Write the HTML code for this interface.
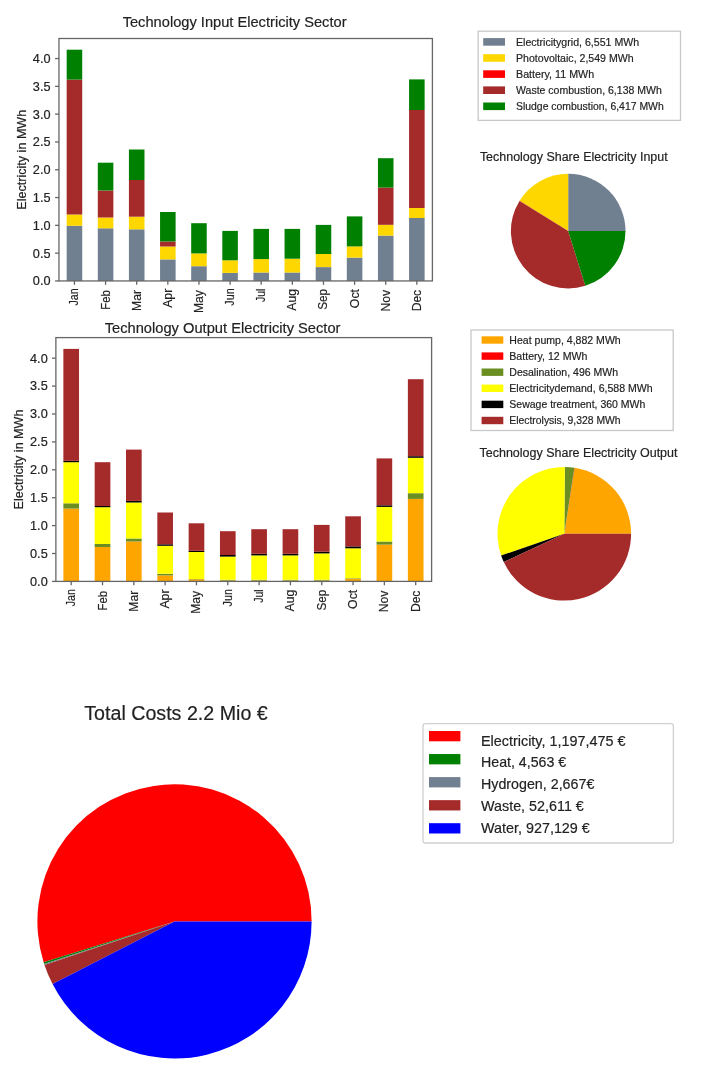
<!DOCTYPE html><html><head><meta charset="utf-8"><style>html,body{margin:0;padding:0;background:#fff;}svg{display:block;filter:blur(0.45px);}text{font-family:"Liberation Sans",sans-serif;stroke:#222;stroke-width:0.18px;}</style></head><body>
<svg width="710" height="1075" viewBox="0 0 710 1075">
<rect width="710" height="1075" fill="#fff"/>
<rect x="66.67" y="225.80" width="15.56" height="55.15" fill="#708090"/>
<rect x="66.67" y="214.50" width="15.56" height="11.30" fill="#ffd700"/>
<rect x="66.67" y="79.60" width="15.56" height="134.90" fill="#a52a2a"/>
<rect x="66.67" y="49.70" width="15.56" height="29.90" fill="#008000"/>
<rect x="97.80" y="228.30" width="15.56" height="52.65" fill="#708090"/>
<rect x="97.80" y="217.50" width="15.56" height="10.80" fill="#ffd700"/>
<rect x="97.80" y="190.50" width="15.56" height="27.00" fill="#a52a2a"/>
<rect x="97.80" y="162.70" width="15.56" height="27.80" fill="#008000"/>
<rect x="128.92" y="229.30" width="15.56" height="51.65" fill="#708090"/>
<rect x="128.92" y="216.70" width="15.56" height="12.60" fill="#ffd700"/>
<rect x="128.92" y="180.00" width="15.56" height="36.70" fill="#a52a2a"/>
<rect x="128.92" y="149.50" width="15.56" height="30.50" fill="#008000"/>
<rect x="160.05" y="259.40" width="15.56" height="21.55" fill="#708090"/>
<rect x="160.05" y="246.50" width="15.56" height="12.90" fill="#ffd700"/>
<rect x="160.05" y="241.50" width="15.56" height="5.00" fill="#a52a2a"/>
<rect x="160.05" y="212.00" width="15.56" height="29.50" fill="#008000"/>
<rect x="191.18" y="266.20" width="15.56" height="14.75" fill="#708090"/>
<rect x="191.18" y="253.40" width="15.56" height="12.80" fill="#ffd700"/>
<rect x="191.18" y="223.20" width="15.56" height="30.20" fill="#008000"/>
<rect x="222.30" y="272.90" width="15.56" height="8.05" fill="#708090"/>
<rect x="222.30" y="260.30" width="15.56" height="12.60" fill="#ffd700"/>
<rect x="222.30" y="230.90" width="15.56" height="29.40" fill="#008000"/>
<rect x="253.43" y="272.50" width="15.56" height="8.45" fill="#708090"/>
<rect x="253.43" y="259.10" width="15.56" height="13.40" fill="#ffd700"/>
<rect x="253.43" y="228.90" width="15.56" height="30.20" fill="#008000"/>
<rect x="284.56" y="272.50" width="15.56" height="8.45" fill="#708090"/>
<rect x="284.56" y="258.70" width="15.56" height="13.80" fill="#ffd700"/>
<rect x="284.56" y="228.90" width="15.56" height="29.80" fill="#008000"/>
<rect x="315.69" y="267.10" width="15.56" height="13.85" fill="#708090"/>
<rect x="315.69" y="254.00" width="15.56" height="13.10" fill="#ffd700"/>
<rect x="315.69" y="224.90" width="15.56" height="29.10" fill="#008000"/>
<rect x="346.81" y="257.60" width="15.56" height="23.35" fill="#708090"/>
<rect x="346.81" y="246.40" width="15.56" height="11.20" fill="#ffd700"/>
<rect x="346.81" y="216.40" width="15.56" height="30.00" fill="#008000"/>
<rect x="377.94" y="235.60" width="15.56" height="45.35" fill="#708090"/>
<rect x="377.94" y="224.80" width="15.56" height="10.80" fill="#ffd700"/>
<rect x="377.94" y="187.60" width="15.56" height="37.20" fill="#a52a2a"/>
<rect x="377.94" y="158.20" width="15.56" height="29.40" fill="#008000"/>
<rect x="409.07" y="218.00" width="15.56" height="62.95" fill="#708090"/>
<rect x="409.07" y="208.00" width="15.56" height="10.00" fill="#ffd700"/>
<rect x="409.07" y="110.00" width="15.56" height="98.00" fill="#a52a2a"/>
<rect x="409.07" y="79.40" width="15.56" height="30.60" fill="#008000"/>
<rect x="58.97" y="38.50" width="373.43" height="242.45" fill="none" stroke="#666666" stroke-width="1.3"/>
<line x1="55.07" y1="280.95" x2="58.97" y2="280.95" stroke="#666666" stroke-width="1.3"/>
<text x="50.50" y="285.30" font-size="11.9" text-anchor="end" fill="#222222" textLength="17.65" lengthAdjust="spacingAndGlyphs" >0.0</text>
<line x1="55.07" y1="253.15" x2="58.97" y2="253.15" stroke="#666666" stroke-width="1.3"/>
<text x="50.50" y="257.50" font-size="11.9" text-anchor="end" fill="#222222" textLength="17.65" lengthAdjust="spacingAndGlyphs" >0.5</text>
<line x1="55.07" y1="225.35" x2="58.97" y2="225.35" stroke="#666666" stroke-width="1.3"/>
<text x="50.50" y="229.70" font-size="11.9" text-anchor="end" fill="#222222" textLength="17.65" lengthAdjust="spacingAndGlyphs" >1.0</text>
<line x1="55.07" y1="197.55" x2="58.97" y2="197.55" stroke="#666666" stroke-width="1.3"/>
<text x="50.50" y="201.90" font-size="11.9" text-anchor="end" fill="#222222" textLength="17.65" lengthAdjust="spacingAndGlyphs" >1.5</text>
<line x1="55.07" y1="169.75" x2="58.97" y2="169.75" stroke="#666666" stroke-width="1.3"/>
<text x="50.50" y="174.10" font-size="11.9" text-anchor="end" fill="#222222" textLength="17.65" lengthAdjust="spacingAndGlyphs" >2.0</text>
<line x1="55.07" y1="141.95" x2="58.97" y2="141.95" stroke="#666666" stroke-width="1.3"/>
<text x="50.50" y="146.30" font-size="11.9" text-anchor="end" fill="#222222" textLength="17.65" lengthAdjust="spacingAndGlyphs" >2.5</text>
<line x1="55.07" y1="114.15" x2="58.97" y2="114.15" stroke="#666666" stroke-width="1.3"/>
<text x="50.50" y="118.50" font-size="11.9" text-anchor="end" fill="#222222" textLength="17.65" lengthAdjust="spacingAndGlyphs" >3.0</text>
<line x1="55.07" y1="86.35" x2="58.97" y2="86.35" stroke="#666666" stroke-width="1.3"/>
<text x="50.50" y="90.70" font-size="11.9" text-anchor="end" fill="#222222" textLength="17.65" lengthAdjust="spacingAndGlyphs" >3.5</text>
<line x1="55.07" y1="58.55" x2="58.97" y2="58.55" stroke="#666666" stroke-width="1.3"/>
<text x="50.50" y="62.90" font-size="11.9" text-anchor="end" fill="#222222" textLength="17.65" lengthAdjust="spacingAndGlyphs" >4.0</text>
<line x1="74.45" y1="280.95" x2="74.45" y2="284.85" stroke="#666666" stroke-width="1.3"/>
<text x="78.45" y="288.35" font-size="11.9" text-anchor="end" fill="#222222" textLength="17.11" lengthAdjust="spacingAndGlyphs" transform="rotate(-90 78.45 288.35)" >Jan</text>
<line x1="105.58" y1="280.95" x2="105.58" y2="284.85" stroke="#666666" stroke-width="1.3"/>
<text x="109.58" y="290.15" font-size="11.9" text-anchor="end" fill="#222222" textLength="19.65" lengthAdjust="spacingAndGlyphs" transform="rotate(-90 109.58 290.15)" >Feb</text>
<line x1="136.70" y1="280.95" x2="136.70" y2="284.85" stroke="#666666" stroke-width="1.3"/>
<text x="140.70" y="290.05" font-size="11.9" text-anchor="end" fill="#222222" textLength="20.94" lengthAdjust="spacingAndGlyphs" transform="rotate(-90 140.70 290.05)" >Mar</text>
<line x1="167.83" y1="280.95" x2="167.83" y2="284.85" stroke="#666666" stroke-width="1.3"/>
<text x="171.83" y="288.65" font-size="11.9" text-anchor="end" fill="#222222" textLength="19.20" lengthAdjust="spacingAndGlyphs" transform="rotate(-90 171.83 288.65)" >Apr</text>
<line x1="198.96" y1="280.95" x2="198.96" y2="284.85" stroke="#666666" stroke-width="1.3"/>
<text x="202.96" y="290.05" font-size="11.9" text-anchor="end" fill="#222222" textLength="22.95" lengthAdjust="spacingAndGlyphs" transform="rotate(-90 202.96 290.05)" >May</text>
<line x1="230.09" y1="280.95" x2="230.09" y2="284.85" stroke="#666666" stroke-width="1.3"/>
<text x="234.09" y="288.35" font-size="11.9" text-anchor="end" fill="#222222" textLength="17.34" lengthAdjust="spacingAndGlyphs" transform="rotate(-90 234.09 288.35)" >Jun</text>
<line x1="261.21" y1="280.95" x2="261.21" y2="284.85" stroke="#666666" stroke-width="1.3"/>
<text x="265.21" y="288.65" font-size="11.9" text-anchor="end" fill="#222222" textLength="13.39" lengthAdjust="spacingAndGlyphs" transform="rotate(-90 265.21 288.65)" >Jul</text>
<line x1="292.34" y1="280.95" x2="292.34" y2="284.85" stroke="#666666" stroke-width="1.3"/>
<text x="296.34" y="289.05" font-size="11.9" text-anchor="end" fill="#222222" textLength="21.67" lengthAdjust="spacingAndGlyphs" transform="rotate(-90 296.34 289.05)" >Aug</text>
<line x1="323.47" y1="280.95" x2="323.47" y2="284.85" stroke="#666666" stroke-width="1.3"/>
<text x="327.47" y="288.95" font-size="11.9" text-anchor="end" fill="#222222" textLength="20.92" lengthAdjust="spacingAndGlyphs" transform="rotate(-90 327.47 288.95)" >Sep</text>
<line x1="354.60" y1="280.95" x2="354.60" y2="284.85" stroke="#666666" stroke-width="1.3"/>
<text x="358.60" y="288.95" font-size="11.9" text-anchor="end" fill="#222222" textLength="19.19" lengthAdjust="spacingAndGlyphs" transform="rotate(-90 358.60 288.95)" >Oct</text>
<line x1="385.72" y1="280.95" x2="385.72" y2="284.85" stroke="#666666" stroke-width="1.3"/>
<text x="389.72" y="289.85" font-size="11.9" text-anchor="end" fill="#222222" textLength="21.66" lengthAdjust="spacingAndGlyphs" transform="rotate(-90 389.72 289.85)" >Nov</text>
<line x1="416.85" y1="280.95" x2="416.85" y2="284.85" stroke="#666666" stroke-width="1.3"/>
<text x="420.85" y="289.85" font-size="11.9" text-anchor="end" fill="#222222" textLength="21.48" lengthAdjust="spacingAndGlyphs" transform="rotate(-90 420.85 289.85)" >Dec</text>
<text x="26.10" y="159.72" font-size="11.9" text-anchor="middle" fill="#222222" textLength="99.90" lengthAdjust="spacingAndGlyphs" transform="rotate(-90 26.10 159.72)" >Electricity in MWh</text>
<text x="234.60" y="26.50" font-size="14.6" text-anchor="middle" fill="#222222" textLength="223.86" lengthAdjust="spacingAndGlyphs" >Technology Input Electricity Sector</text>
<rect x="63.37" y="508.60" width="15.66" height="72.80" fill="#ffa500"/>
<rect x="63.37" y="503.30" width="15.66" height="5.30" fill="#6b8e23"/>
<rect x="63.37" y="462.20" width="15.66" height="41.10" fill="#ffff00"/>
<rect x="63.37" y="460.80" width="15.66" height="1.40" fill="#000000"/>
<rect x="63.37" y="348.90" width="15.66" height="111.90" fill="#a52a2a"/>
<rect x="94.69" y="547.00" width="15.66" height="34.40" fill="#ffa500"/>
<rect x="94.69" y="544.00" width="15.66" height="3.00" fill="#6b8e23"/>
<rect x="94.69" y="507.20" width="15.66" height="36.80" fill="#ffff00"/>
<rect x="94.69" y="506.00" width="15.66" height="1.20" fill="#000000"/>
<rect x="94.69" y="462.20" width="15.66" height="43.80" fill="#a52a2a"/>
<rect x="126.01" y="541.50" width="15.66" height="39.90" fill="#ffa500"/>
<rect x="126.01" y="538.50" width="15.66" height="3.00" fill="#6b8e23"/>
<rect x="126.01" y="502.50" width="15.66" height="36.00" fill="#ffff00"/>
<rect x="126.01" y="500.90" width="15.66" height="1.60" fill="#000000"/>
<rect x="126.01" y="449.60" width="15.66" height="51.30" fill="#a52a2a"/>
<rect x="157.32" y="575.40" width="15.66" height="6.00" fill="#ffa500"/>
<rect x="157.32" y="573.80" width="15.66" height="1.60" fill="#6b8e23"/>
<rect x="157.32" y="545.80" width="15.66" height="28.00" fill="#ffff00"/>
<rect x="157.32" y="544.30" width="15.66" height="1.50" fill="#000000"/>
<rect x="157.32" y="512.50" width="15.66" height="31.80" fill="#a52a2a"/>
<rect x="188.64" y="579.30" width="15.66" height="2.10" fill="#ffa500"/>
<rect x="188.64" y="579.00" width="15.66" height="0.30" fill="#6b8e23"/>
<rect x="188.64" y="552.00" width="15.66" height="27.00" fill="#ffff00"/>
<rect x="188.64" y="550.80" width="15.66" height="1.20" fill="#000000"/>
<rect x="188.64" y="523.30" width="15.66" height="27.50" fill="#a52a2a"/>
<rect x="219.96" y="580.50" width="15.66" height="0.90" fill="#ffa500"/>
<rect x="219.96" y="579.80" width="15.66" height="0.70" fill="#6b8e23"/>
<rect x="219.96" y="556.60" width="15.66" height="23.20" fill="#ffff00"/>
<rect x="219.96" y="555.00" width="15.66" height="1.60" fill="#000000"/>
<rect x="219.96" y="531.20" width="15.66" height="23.80" fill="#a52a2a"/>
<rect x="251.28" y="580.50" width="15.66" height="0.90" fill="#ffa500"/>
<rect x="251.28" y="579.80" width="15.66" height="0.70" fill="#6b8e23"/>
<rect x="251.28" y="555.40" width="15.66" height="24.40" fill="#ffff00"/>
<rect x="251.28" y="553.80" width="15.66" height="1.60" fill="#000000"/>
<rect x="251.28" y="529.20" width="15.66" height="24.60" fill="#a52a2a"/>
<rect x="282.60" y="580.50" width="15.66" height="0.90" fill="#ffa500"/>
<rect x="282.60" y="579.80" width="15.66" height="0.70" fill="#6b8e23"/>
<rect x="282.60" y="555.40" width="15.66" height="24.40" fill="#ffff00"/>
<rect x="282.60" y="553.80" width="15.66" height="1.60" fill="#000000"/>
<rect x="282.60" y="529.20" width="15.66" height="24.60" fill="#a52a2a"/>
<rect x="313.92" y="580.50" width="15.66" height="0.90" fill="#ffa500"/>
<rect x="313.92" y="579.80" width="15.66" height="0.70" fill="#6b8e23"/>
<rect x="313.92" y="553.40" width="15.66" height="26.40" fill="#ffff00"/>
<rect x="313.92" y="551.70" width="15.66" height="1.70" fill="#000000"/>
<rect x="313.92" y="524.90" width="15.66" height="26.80" fill="#a52a2a"/>
<rect x="345.23" y="578.90" width="15.66" height="2.50" fill="#ffa500"/>
<rect x="345.23" y="578.30" width="15.66" height="0.60" fill="#6b8e23"/>
<rect x="345.23" y="548.30" width="15.66" height="30.00" fill="#ffff00"/>
<rect x="345.23" y="546.40" width="15.66" height="1.90" fill="#000000"/>
<rect x="345.23" y="516.30" width="15.66" height="30.10" fill="#a52a2a"/>
<rect x="376.55" y="544.60" width="15.66" height="36.80" fill="#ffa500"/>
<rect x="376.55" y="541.50" width="15.66" height="3.10" fill="#6b8e23"/>
<rect x="376.55" y="506.90" width="15.66" height="34.60" fill="#ffff00"/>
<rect x="376.55" y="505.30" width="15.66" height="1.60" fill="#000000"/>
<rect x="376.55" y="458.40" width="15.66" height="46.90" fill="#a52a2a"/>
<rect x="407.87" y="498.90" width="15.66" height="82.50" fill="#ffa500"/>
<rect x="407.87" y="493.20" width="15.66" height="5.70" fill="#6b8e23"/>
<rect x="407.87" y="457.80" width="15.66" height="35.40" fill="#ffff00"/>
<rect x="407.87" y="456.20" width="15.66" height="1.60" fill="#000000"/>
<rect x="407.87" y="379.20" width="15.66" height="77.00" fill="#a52a2a"/>
<rect x="55.88" y="337.60" width="375.72" height="243.80" fill="none" stroke="#666666" stroke-width="1.3"/>
<line x1="51.98" y1="581.40" x2="55.88" y2="581.40" stroke="#666666" stroke-width="1.3"/>
<text x="47.70" y="585.75" font-size="11.9" text-anchor="end" fill="#222222" textLength="17.65" lengthAdjust="spacingAndGlyphs" >0.0</text>
<line x1="51.98" y1="553.50" x2="55.88" y2="553.50" stroke="#666666" stroke-width="1.3"/>
<text x="47.70" y="557.85" font-size="11.9" text-anchor="end" fill="#222222" textLength="17.65" lengthAdjust="spacingAndGlyphs" >0.5</text>
<line x1="51.98" y1="525.60" x2="55.88" y2="525.60" stroke="#666666" stroke-width="1.3"/>
<text x="47.70" y="529.95" font-size="11.9" text-anchor="end" fill="#222222" textLength="17.65" lengthAdjust="spacingAndGlyphs" >1.0</text>
<line x1="51.98" y1="497.70" x2="55.88" y2="497.70" stroke="#666666" stroke-width="1.3"/>
<text x="47.70" y="502.05" font-size="11.9" text-anchor="end" fill="#222222" textLength="17.65" lengthAdjust="spacingAndGlyphs" >1.5</text>
<line x1="51.98" y1="469.80" x2="55.88" y2="469.80" stroke="#666666" stroke-width="1.3"/>
<text x="47.70" y="474.15" font-size="11.9" text-anchor="end" fill="#222222" textLength="17.65" lengthAdjust="spacingAndGlyphs" >2.0</text>
<line x1="51.98" y1="441.90" x2="55.88" y2="441.90" stroke="#666666" stroke-width="1.3"/>
<text x="47.70" y="446.25" font-size="11.9" text-anchor="end" fill="#222222" textLength="17.65" lengthAdjust="spacingAndGlyphs" >2.5</text>
<line x1="51.98" y1="414.00" x2="55.88" y2="414.00" stroke="#666666" stroke-width="1.3"/>
<text x="47.70" y="418.35" font-size="11.9" text-anchor="end" fill="#222222" textLength="17.65" lengthAdjust="spacingAndGlyphs" >3.0</text>
<line x1="51.98" y1="386.10" x2="55.88" y2="386.10" stroke="#666666" stroke-width="1.3"/>
<text x="47.70" y="390.45" font-size="11.9" text-anchor="end" fill="#222222" textLength="17.65" lengthAdjust="spacingAndGlyphs" >3.5</text>
<line x1="51.98" y1="358.20" x2="55.88" y2="358.20" stroke="#666666" stroke-width="1.3"/>
<text x="47.70" y="362.55" font-size="11.9" text-anchor="end" fill="#222222" textLength="17.65" lengthAdjust="spacingAndGlyphs" >4.0</text>
<line x1="71.20" y1="581.40" x2="71.20" y2="585.30" stroke="#666666" stroke-width="1.3"/>
<text x="75.20" y="589.10" font-size="11.9" text-anchor="end" fill="#222222" textLength="17.11" lengthAdjust="spacingAndGlyphs" transform="rotate(-90 75.20 589.10)" >Jan</text>
<line x1="102.52" y1="581.40" x2="102.52" y2="585.30" stroke="#666666" stroke-width="1.3"/>
<text x="106.52" y="590.90" font-size="11.9" text-anchor="end" fill="#222222" textLength="19.65" lengthAdjust="spacingAndGlyphs" transform="rotate(-90 106.52 590.90)" >Feb</text>
<line x1="133.84" y1="581.40" x2="133.84" y2="585.30" stroke="#666666" stroke-width="1.3"/>
<text x="137.84" y="590.80" font-size="11.9" text-anchor="end" fill="#222222" textLength="20.94" lengthAdjust="spacingAndGlyphs" transform="rotate(-90 137.84 590.80)" >Mar</text>
<line x1="165.15" y1="581.40" x2="165.15" y2="585.30" stroke="#666666" stroke-width="1.3"/>
<text x="169.15" y="589.40" font-size="11.9" text-anchor="end" fill="#222222" textLength="19.20" lengthAdjust="spacingAndGlyphs" transform="rotate(-90 169.15 589.40)" >Apr</text>
<line x1="196.47" y1="581.40" x2="196.47" y2="585.30" stroke="#666666" stroke-width="1.3"/>
<text x="200.47" y="590.80" font-size="11.9" text-anchor="end" fill="#222222" textLength="22.95" lengthAdjust="spacingAndGlyphs" transform="rotate(-90 200.47 590.80)" >May</text>
<line x1="227.79" y1="581.40" x2="227.79" y2="585.30" stroke="#666666" stroke-width="1.3"/>
<text x="231.79" y="589.10" font-size="11.9" text-anchor="end" fill="#222222" textLength="17.34" lengthAdjust="spacingAndGlyphs" transform="rotate(-90 231.79 589.10)" >Jun</text>
<line x1="259.11" y1="581.40" x2="259.11" y2="585.30" stroke="#666666" stroke-width="1.3"/>
<text x="263.11" y="589.40" font-size="11.9" text-anchor="end" fill="#222222" textLength="13.39" lengthAdjust="spacingAndGlyphs" transform="rotate(-90 263.11 589.40)" >Jul</text>
<line x1="290.43" y1="581.40" x2="290.43" y2="585.30" stroke="#666666" stroke-width="1.3"/>
<text x="294.43" y="589.80" font-size="11.9" text-anchor="end" fill="#222222" textLength="21.67" lengthAdjust="spacingAndGlyphs" transform="rotate(-90 294.43 589.80)" >Aug</text>
<line x1="321.75" y1="581.40" x2="321.75" y2="585.30" stroke="#666666" stroke-width="1.3"/>
<text x="325.75" y="589.70" font-size="11.9" text-anchor="end" fill="#222222" textLength="20.92" lengthAdjust="spacingAndGlyphs" transform="rotate(-90 325.75 589.70)" >Sep</text>
<line x1="353.06" y1="581.40" x2="353.06" y2="585.30" stroke="#666666" stroke-width="1.3"/>
<text x="357.06" y="589.70" font-size="11.9" text-anchor="end" fill="#222222" textLength="19.19" lengthAdjust="spacingAndGlyphs" transform="rotate(-90 357.06 589.70)" >Oct</text>
<line x1="384.38" y1="581.40" x2="384.38" y2="585.30" stroke="#666666" stroke-width="1.3"/>
<text x="388.38" y="590.60" font-size="11.9" text-anchor="end" fill="#222222" textLength="21.66" lengthAdjust="spacingAndGlyphs" transform="rotate(-90 388.38 590.60)" >Nov</text>
<line x1="415.70" y1="581.40" x2="415.70" y2="585.30" stroke="#666666" stroke-width="1.3"/>
<text x="419.70" y="590.60" font-size="11.9" text-anchor="end" fill="#222222" textLength="21.48" lengthAdjust="spacingAndGlyphs" transform="rotate(-90 419.70 590.60)" >Dec</text>
<text x="22.50" y="459.50" font-size="11.9" text-anchor="middle" fill="#222222" textLength="99.90" lengthAdjust="spacingAndGlyphs" transform="rotate(-90 22.50 459.50)" >Electricity in MWh</text>
<text x="222.60" y="333.00" font-size="14.6" text-anchor="middle" fill="#222222" textLength="235.79" lengthAdjust="spacingAndGlyphs" >Technology Output Electricity Sector</text>
<rect x="478.20" y="31.20" width="202.30" height="89.20" rx="0" fill="#fff" stroke="#c8c8c8" stroke-width="1.3"/>
<rect x="483.20" y="38.10" width="21.80" height="7.60" fill="#708090"/>
<text x="516.00" y="45.90" font-size="10.6" text-anchor="start" fill="#222222" textLength="123.14" lengthAdjust="spacingAndGlyphs" >Electricitygrid, 6,551 MWh</text>
<rect x="483.20" y="54.20" width="21.80" height="7.60" fill="#ffd700"/>
<text x="516.00" y="62.00" font-size="10.6" text-anchor="start" fill="#222222" textLength="117.65" lengthAdjust="spacingAndGlyphs" >Photovoltaic, 2,549 MWh</text>
<rect x="483.20" y="70.30" width="21.80" height="7.60" fill="#ff0000"/>
<text x="516.00" y="78.10" font-size="10.6" text-anchor="start" fill="#222222" textLength="78.15" lengthAdjust="spacingAndGlyphs" >Battery, 11 MWh</text>
<rect x="483.20" y="86.40" width="21.80" height="7.60" fill="#a52a2a"/>
<text x="516.00" y="94.20" font-size="10.6" text-anchor="start" fill="#222222" textLength="145.83" lengthAdjust="spacingAndGlyphs" >Waste combustion, 6,138 MWh</text>
<rect x="483.20" y="102.50" width="21.80" height="7.60" fill="#008000"/>
<text x="516.00" y="110.30" font-size="10.6" text-anchor="start" fill="#222222" textLength="147.70" lengthAdjust="spacingAndGlyphs" >Sludge combustion, 6,417 MWh</text>
<text x="573.80" y="160.50" font-size="12.5" text-anchor="middle" fill="#222222" textLength="187.79" lengthAdjust="spacingAndGlyphs" >Technology Share Electricity Input</text>
<path d="M568.20,231.10 L625.50,231.10 A57.30,57.30 0 0 0 568.20,173.80 Z" fill="#708090"/>
<path d="M568.20,231.10 L568.20,173.80 A57.30,57.30 0 0 0 519.55,200.82 Z" fill="#ffd700"/>
<path d="M568.20,231.10 L519.55,200.82 A57.30,57.30 0 0 0 519.50,200.91 Z" fill="#ff0000"/>
<path d="M568.20,231.10 L519.50,200.91 A57.30,57.30 0 0 0 585.34,285.78 Z" fill="#a52a2a"/>
<path d="M568.20,231.10 L585.34,285.78 A57.30,57.30 0 0 0 625.50,231.10 Z" fill="#008000"/>
<rect x="471.00" y="330.00" width="202.20" height="100.50" rx="0" fill="#fff" stroke="#c8c8c8" stroke-width="1.3"/>
<rect x="481.60" y="336.30" width="21.70" height="7.40" fill="#ffa500"/>
<text x="509.30" y="343.70" font-size="10.6" text-anchor="start" fill="#222222" textLength="111.44" lengthAdjust="spacingAndGlyphs" >Heat pump, 4,882 MWh</text>
<rect x="481.60" y="352.40" width="21.70" height="7.40" fill="#ff0000"/>
<text x="509.30" y="359.80" font-size="10.6" text-anchor="start" fill="#222222" textLength="78.15" lengthAdjust="spacingAndGlyphs" >Battery, 12 MWh</text>
<rect x="481.60" y="368.50" width="21.70" height="7.40" fill="#6b8e23"/>
<text x="509.30" y="375.90" font-size="10.6" text-anchor="start" fill="#222222" textLength="108.75" lengthAdjust="spacingAndGlyphs" >Desalination, 496 MWh</text>
<rect x="481.60" y="384.60" width="21.70" height="7.40" fill="#ffff00"/>
<text x="509.30" y="392.00" font-size="10.6" text-anchor="start" fill="#222222" textLength="143.41" lengthAdjust="spacingAndGlyphs" >Electricitydemand, 6,588 MWh</text>
<rect x="481.60" y="400.70" width="21.70" height="7.40" fill="#000000"/>
<text x="509.30" y="408.10" font-size="10.6" text-anchor="start" fill="#222222" textLength="136.04" lengthAdjust="spacingAndGlyphs" >Sewage treatment, 360 MWh</text>
<rect x="481.60" y="416.80" width="21.70" height="7.40" fill="#a52a2a"/>
<text x="509.30" y="424.20" font-size="10.6" text-anchor="start" fill="#222222" textLength="111.34" lengthAdjust="spacingAndGlyphs" >Electrolysis, 9,328 MWh</text>
<text x="578.50" y="457.30" font-size="12.5" text-anchor="middle" fill="#222222" textLength="198.00" lengthAdjust="spacingAndGlyphs" >Technology Share Electricity Output</text>
<path d="M564.30,533.80 L631.10,533.80 A66.80,66.80 0 0 0 574.61,467.80 Z" fill="#ffa500"/>
<path d="M564.30,533.80 L574.61,467.80 A66.80,66.80 0 0 0 574.38,467.77 Z" fill="#ff0000"/>
<path d="M564.30,533.80 L574.38,467.77 A66.80,66.80 0 0 0 564.81,467.00 Z" fill="#6b8e23"/>
<path d="M564.30,533.80 L564.81,467.00 A66.80,66.80 0 0 0 501.15,555.58 Z" fill="#ffff00"/>
<path d="M564.30,533.80 L501.15,555.58 A66.80,66.80 0 0 0 503.76,562.04 Z" fill="#000000"/>
<path d="M564.30,533.80 L503.76,562.04 A66.80,66.80 0 0 0 631.10,533.80 Z" fill="#a52a2a"/>
<text x="176.00" y="719.60" font-size="19.6" text-anchor="middle" fill="#222222" textLength="183.40" lengthAdjust="spacingAndGlyphs" >Total Costs 2.2 Mio €</text>
<path d="M174.50,921.40 L311.60,921.40 A137.10,137.10 0 1 0 43.63,962.27 Z" fill="#ff0000"/>
<path d="M174.50,921.40 L43.63,962.27 A137.10,137.10 0 0 0 44.18,963.99 Z" fill="#008000"/>
<path d="M174.50,921.40 L44.18,963.99 A137.10,137.10 0 0 0 44.51,964.99 Z" fill="#708090"/>
<path d="M174.50,921.40 L44.51,964.99 A137.10,137.10 0 0 0 52.57,984.08 Z" fill="#a52a2a"/>
<path d="M174.50,921.40 L52.57,984.08 A137.10,137.10 0 0 0 311.60,921.40 Z" fill="#0000ff"/>
<rect x="423.00" y="723.60" width="250.40" height="119.40" rx="2.5" fill="#fff" stroke="#d0d0d0" stroke-width="1.3"/>
<rect x="429.00" y="731.00" width="31.40" height="10.30" fill="#ff0000"/>
<text x="481.00" y="745.50" font-size="14.3" text-anchor="start" fill="#222222" textLength="144.52" lengthAdjust="spacingAndGlyphs" >Electricity, 1,197,475 €</text>
<rect x="429.00" y="754.05" width="31.40" height="10.30" fill="#008000"/>
<text x="481.00" y="767.30" font-size="14.3" text-anchor="start" fill="#222222" textLength="85.22" lengthAdjust="spacingAndGlyphs" >Heat, 4,563 €</text>
<rect x="429.00" y="777.10" width="31.40" height="10.30" fill="#708090"/>
<text x="481.00" y="788.70" font-size="14.3" text-anchor="start" fill="#222222" textLength="113.31" lengthAdjust="spacingAndGlyphs" >Hydrogen, 2,667€</text>
<rect x="429.00" y="800.15" width="31.40" height="10.30" fill="#a52a2a"/>
<text x="481.00" y="810.80" font-size="14.3" text-anchor="start" fill="#222222" textLength="102.82" lengthAdjust="spacingAndGlyphs" >Waste, 52,611 €</text>
<rect x="429.00" y="823.20" width="31.40" height="10.30" fill="#0000ff"/>
<text x="481.00" y="833.00" font-size="14.3" text-anchor="start" fill="#222222" textLength="108.81" lengthAdjust="spacingAndGlyphs" >Water, 927,129 €</text>
</svg></body></html>
